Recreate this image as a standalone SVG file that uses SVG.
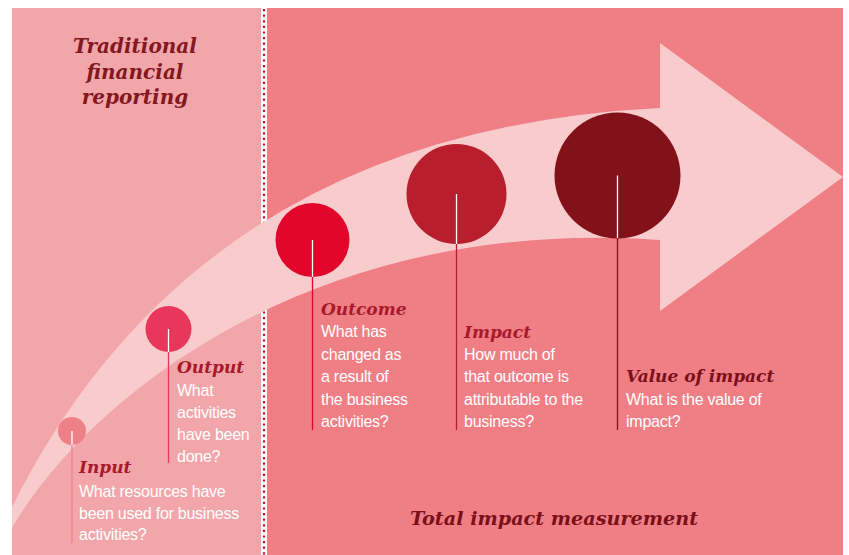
<svg xmlns="http://www.w3.org/2000/svg" width="849" height="555" viewBox="0 0 849 555">
<defs>
<style>
.head{font-family:"DejaVu Serif",serif;font-weight:bold;font-style:italic;font-size:17px;fill:#A8192B}
.title{font-family:"DejaVu Serif",serif;font-weight:bold;font-style:italic;font-size:20px;fill:#831820}
.body{font-family:"Liberation Sans",Arial,sans-serif;font-size:16px;fill:#FFFFFF;letter-spacing:-0.25px}
.wl{stroke:#FFFFFF;stroke-width:1.3}
</style>
<clipPath id="panel"><rect x="12" y="8" width="831" height="547"/></clipPath>
</defs>
<rect width="849" height="555" fill="#FFFFFF"/>
<rect x="12" y="8" width="249" height="547" fill="#F2A6AA"/>
<rect x="267" y="8" width="576" height="547" fill="#EF7E85"/>
<line x1="264" y1="9" x2="264" y2="555" stroke="#C8102E" stroke-width="2.2" stroke-dasharray="2.2 3.4"/>
<path clip-path="url(#panel)" d="M12,507 Q200,131 660,108 L660,43 L843,177 L660,311 L660,240 C300,215 80,410 12,528 Z" fill="#F8CBCD"/>
<g id="connectors">
<line x1="72" y1="445" x2="72" y2="543" stroke="#EE8088" stroke-width="1.3"/>
<line x1="168.5" y1="352" x2="168.5" y2="463" stroke="#E8375A" stroke-width="1.3"/>
<line x1="312.5" y1="277" x2="312.5" y2="430" stroke="#E2062A" stroke-width="1.3"/>
<line x1="456.5" y1="244" x2="456.5" y2="430" stroke="#B81E2B" stroke-width="1.3"/>
<line x1="617.5" y1="238" x2="617.5" y2="430" stroke="#83111A" stroke-width="1.3"/>
</g>
<g id="input">
<circle cx="72" cy="431" r="14" fill="#EE8088"/>
<line class="wl" x1="72" y1="431" x2="72" y2="445"/>
<text class="head" x="79" y="473">Input</text>
<text class="body" x="79" y="497">What resources have</text>
<text class="body" x="79" y="519">been used for business</text>
<text class="body" x="79" y="540">activities?</text>
</g>
<g id="output">
<circle cx="168.5" cy="329" r="23" fill="#E8375A"/>
<line class="wl" x1="168.5" y1="329" x2="168.5" y2="352"/>
<text class="head" x="177" y="373">Output</text>
<text class="body" x="177" y="396">What</text>
<text class="body" x="177" y="418">activities</text>
<text class="body" x="177" y="440">have been</text>
<text class="body" x="177" y="462">done?</text>
</g>
<g id="outcome">
<circle cx="312.5" cy="240" r="37" fill="#E2062A"/>
<line class="wl" x1="312.5" y1="240" x2="312.5" y2="277"/>
<text class="head" x="321" y="315">Outcome</text>
<text class="body" x="321" y="337">What has</text>
<text class="body" x="321" y="360">changed as</text>
<text class="body" x="321" y="382">a result of</text>
<text class="body" x="321" y="405">the business</text>
<text class="body" x="321" y="427">activities?</text>
</g>
<g id="impact">
<circle cx="456.5" cy="194" r="50" fill="#B81E2B"/>
<line class="wl" x1="456.5" y1="194" x2="456.5" y2="244"/>
<text class="head" x="464" y="338">Impact</text>
<text class="body" x="464" y="360">How much of</text>
<text class="body" x="464" y="382">that outcome is</text>
<text class="body" x="464" y="405">attributable to the</text>
<text class="body" x="464" y="427">business?</text>
</g>
<g id="value">
<circle cx="617.5" cy="175.5" r="63" fill="#83111A"/>
<line class="wl" x1="617.5" y1="175.5" x2="617.5" y2="238"/>
<text class="head" x="626" y="382" style="fill:#7B1019">Value of impact</text>
<text class="body" x="626" y="405">What is the value of</text>
<text class="body" x="626" y="427">impact?</text>
</g>
<g id="traditional">
<text class="title" text-anchor="middle"><tspan x="135" y="53">Traditional</tspan><tspan x="135" y="79">financial</tspan><tspan x="135" y="104">reporting</tspan></text>
</g>
<g id="total">
<text class="title" x="410" y="525" style="fill:#7B1019;font-size:19.2px">Total impact measurement</text>
</g>
</svg>
